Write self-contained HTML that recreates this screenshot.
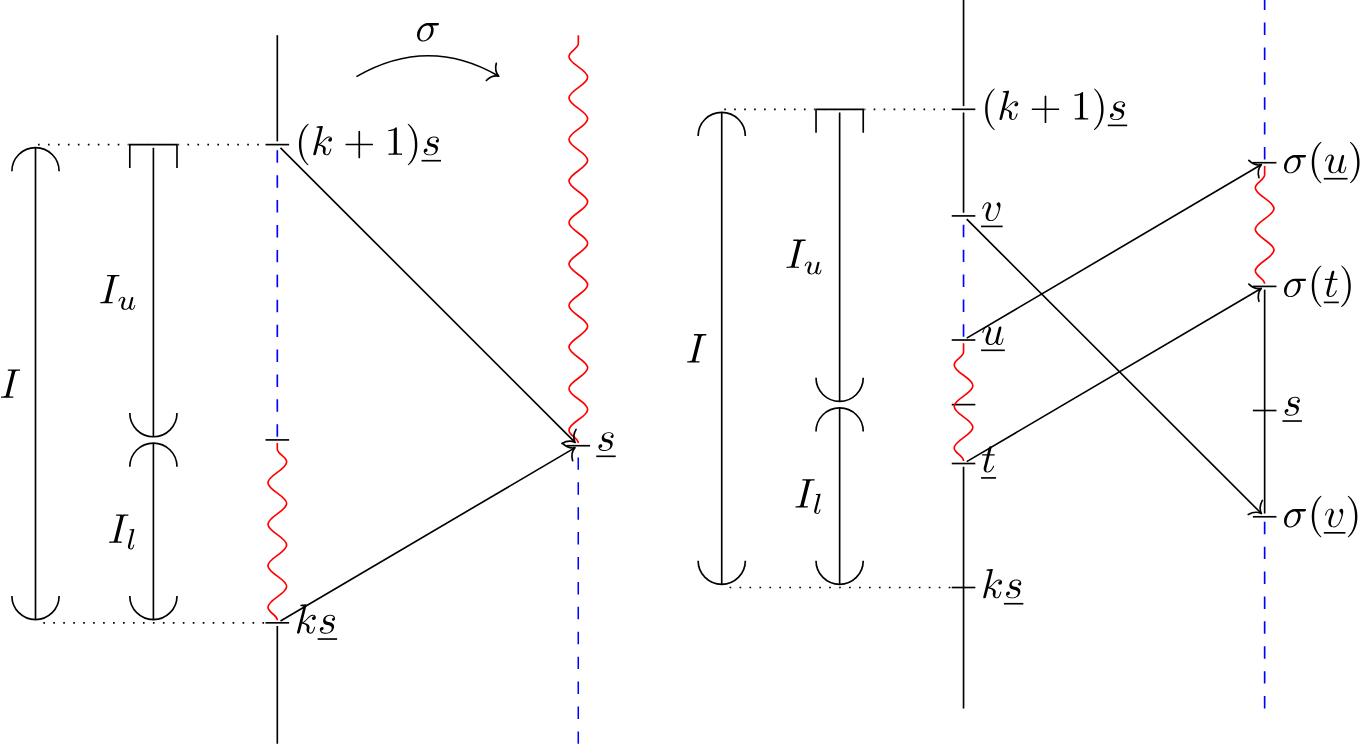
<!DOCTYPE html>
<html><head><meta charset="utf-8"><title>diagram</title>
<style>html,body{margin:0;padding:0;background:#fff;}body{width:1360px;height:744px;overflow:hidden;font-family:"Liberation Serif",serif;}svg{display:block;}</style>
</head><body>
<svg width="1360" height="744" viewBox="0 0 326.4 178.56">
<defs>
<g>
<g id="glyph-0-0">
<path d="M 3.296875 2.390625 C 3.296875 2.359375 3.296875 2.34375 3.125 2.171875 C 1.890625 0.921875 1.5625 -0.96875 1.5625 -2.5 C 1.5625 -4.234375 1.9375 -5.96875 3.171875 -7.203125 C 3.296875 -7.328125 3.296875 -7.34375 3.296875 -7.375 C 3.296875 -7.453125 3.265625 -7.484375 3.203125 -7.484375 C 3.09375 -7.484375 2.203125 -6.796875 1.609375 -5.53125 C 1.109375 -4.4375 0.984375 -3.328125 0.984375 -2.5 C 0.984375 -1.71875 1.09375 -0.515625 1.640625 0.625 C 2.25 1.84375 3.09375 2.5 3.203125 2.5 C 3.265625 2.5 3.296875 2.46875 3.296875 2.390625 Z M 3.296875 2.390625 "/>
</g>
<g id="glyph-0-1">
<path d="M 4.078125 -2.296875 L 6.859375 -2.296875 C 7 -2.296875 7.1875 -2.296875 7.1875 -2.5 C 7.1875 -2.6875 7 -2.6875 6.859375 -2.6875 L 4.078125 -2.6875 L 4.078125 -5.484375 C 4.078125 -5.625 4.078125 -5.8125 3.875 -5.8125 C 3.671875 -5.8125 3.671875 -5.625 3.671875 -5.484375 L 3.671875 -2.6875 L 0.890625 -2.6875 C 0.75 -2.6875 0.5625 -2.6875 0.5625 -2.5 C 0.5625 -2.296875 0.75 -2.296875 0.890625 -2.296875 L 3.671875 -2.296875 L 3.671875 0.5 C 3.671875 0.640625 3.671875 0.828125 3.875 0.828125 C 4.078125 0.828125 4.078125 0.640625 4.078125 0.5 Z M 4.078125 -2.296875 "/>
</g>
<g id="glyph-0-2">
<path d="M 2.9375 -6.375 C 2.9375 -6.625 2.9375 -6.640625 2.703125 -6.640625 C 2.078125 -6 1.203125 -6 0.890625 -6 L 0.890625 -5.6875 C 1.09375 -5.6875 1.671875 -5.6875 2.1875 -5.953125 L 2.1875 -0.78125 C 2.1875 -0.421875 2.15625 -0.3125 1.265625 -0.3125 L 0.953125 -0.3125 L 0.953125 0 C 1.296875 -0.03125 2.15625 -0.03125 2.5625 -0.03125 C 2.953125 -0.03125 3.828125 -0.03125 4.171875 0 L 4.171875 -0.3125 L 3.859375 -0.3125 C 2.953125 -0.3125 2.9375 -0.421875 2.9375 -0.78125 Z M 2.9375 -6.375 "/>
</g>
<g id="glyph-0-3">
<path d="M 2.875 -2.5 C 2.875 -3.265625 2.765625 -4.46875 2.21875 -5.609375 C 1.625 -6.828125 0.765625 -7.484375 0.671875 -7.484375 C 0.609375 -7.484375 0.5625 -7.4375 0.5625 -7.375 C 0.5625 -7.34375 0.5625 -7.328125 0.75 -7.140625 C 1.734375 -6.15625 2.296875 -4.578125 2.296875 -2.5 C 2.296875 -0.78125 1.9375 0.96875 0.703125 2.21875 C 0.5625 2.34375 0.5625 2.359375 0.5625 2.390625 C 0.5625 2.453125 0.609375 2.5 0.671875 2.5 C 0.765625 2.5 1.671875 1.8125 2.25 0.546875 C 2.765625 -0.546875 2.875 -1.65625 2.875 -2.5 Z M 2.875 -2.5 "/>
</g>
<g id="glyph-1-0">
<path d="M 2.859375 -6.8125 C 2.859375 -6.8125 2.859375 -6.921875 2.734375 -6.921875 C 2.5 -6.921875 1.78125 -6.84375 1.515625 -6.8125 C 1.4375 -6.8125 1.328125 -6.796875 1.328125 -6.625 C 1.328125 -6.5 1.421875 -6.5 1.5625 -6.5 C 2.046875 -6.5 2.0625 -6.4375 2.0625 -6.328125 L 2.03125 -6.125 L 0.59375 -0.390625 C 0.546875 -0.25 0.546875 -0.234375 0.546875 -0.171875 C 0.546875 0.0625 0.75 0.109375 0.84375 0.109375 C 0.96875 0.109375 1.109375 0.015625 1.171875 -0.09375 C 1.21875 -0.1875 1.671875 -2.03125 1.734375 -2.28125 C 2.078125 -2.25 2.890625 -2.09375 2.890625 -1.4375 C 2.890625 -1.359375 2.890625 -1.328125 2.859375 -1.21875 C 2.84375 -1.109375 2.828125 -0.984375 2.828125 -0.875 C 2.828125 -0.296875 3.21875 0.109375 3.734375 0.109375 C 4.03125 0.109375 4.3125 -0.046875 4.53125 -0.421875 C 4.78125 -0.859375 4.890625 -1.40625 4.890625 -1.421875 C 4.890625 -1.53125 4.796875 -1.53125 4.765625 -1.53125 C 4.671875 -1.53125 4.65625 -1.484375 4.625 -1.34375 C 4.421875 -0.625 4.203125 -0.109375 3.765625 -0.109375 C 3.5625 -0.109375 3.4375 -0.21875 3.4375 -0.578125 C 3.4375 -0.75 3.484375 -0.984375 3.515625 -1.140625 C 3.5625 -1.3125 3.5625 -1.34375 3.5625 -1.453125 C 3.5625 -2.09375 2.9375 -2.375 2.078125 -2.5 C 2.390625 -2.671875 2.71875 -2.984375 2.9375 -3.234375 C 3.421875 -3.765625 3.875 -4.1875 4.359375 -4.1875 C 4.421875 -4.1875 4.4375 -4.1875 4.453125 -4.171875 C 4.578125 -4.15625 4.578125 -4.15625 4.671875 -4.09375 C 4.6875 -4.09375 4.6875 -4.078125 4.703125 -4.0625 C 4.234375 -4.03125 4.140625 -3.640625 4.140625 -3.515625 C 4.140625 -3.359375 4.25 -3.171875 4.515625 -3.171875 C 4.78125 -3.171875 5.0625 -3.390625 5.0625 -3.78125 C 5.0625 -4.078125 4.828125 -4.40625 4.390625 -4.40625 C 4.109375 -4.40625 3.65625 -4.328125 2.9375 -3.53125 C 2.59375 -3.15625 2.203125 -2.75 1.828125 -2.609375 Z M 2.859375 -6.8125 "/>
</g>
<g id="glyph-1-1">
<path d="M 3.890625 -3.734375 C 3.625 -3.71875 3.421875 -3.5 3.421875 -3.28125 C 3.421875 -3.140625 3.515625 -2.984375 3.734375 -2.984375 C 3.953125 -2.984375 4.1875 -3.15625 4.1875 -3.546875 C 4.1875 -4 3.765625 -4.40625 3 -4.40625 C 1.6875 -4.40625 1.3125 -3.390625 1.3125 -2.953125 C 1.3125 -2.171875 2.046875 -2.03125 2.34375 -1.96875 C 2.859375 -1.859375 3.375 -1.75 3.375 -1.203125 C 3.375 -0.953125 3.15625 -0.109375 1.953125 -0.109375 C 1.8125 -0.109375 1.046875 -0.109375 0.8125 -0.640625 C 1.203125 -0.59375 1.453125 -0.890625 1.453125 -1.171875 C 1.453125 -1.390625 1.28125 -1.515625 1.078125 -1.515625 C 0.8125 -1.515625 0.515625 -1.3125 0.515625 -0.859375 C 0.515625 -0.296875 1.09375 0.109375 1.9375 0.109375 C 3.5625 0.109375 3.953125 -1.09375 3.953125 -1.546875 C 3.953125 -1.90625 3.765625 -2.15625 3.640625 -2.265625 C 3.375 -2.546875 3.078125 -2.609375 2.640625 -2.6875 C 2.28125 -2.765625 1.890625 -2.84375 1.890625 -3.296875 C 1.890625 -3.578125 2.125 -4.1875 3 -4.1875 C 3.25 -4.1875 3.75 -4.109375 3.890625 -3.734375 Z M 3.890625 -3.734375 "/>
</g>
<g id="glyph-1-2">
<path d="M 5.15625 -3.71875 C 5.296875 -3.71875 5.65625 -3.71875 5.65625 -4.0625 C 5.65625 -4.296875 5.4375 -4.296875 5.265625 -4.296875 L 2.984375 -4.296875 C 1.484375 -4.296875 0.375 -2.65625 0.375 -1.46875 C 0.375 -0.59375 0.96875 0.109375 1.875 0.109375 C 3.046875 0.109375 4.375 -1.09375 4.375 -2.625 C 4.375 -2.796875 4.375 -3.28125 4.0625 -3.71875 Z M 1.890625 -0.109375 C 1.390625 -0.109375 1 -0.46875 1 -1.1875 C 1 -1.484375 1.109375 -2.296875 1.46875 -2.890625 C 1.890625 -3.578125 2.484375 -3.71875 2.828125 -3.71875 C 3.65625 -3.71875 3.734375 -3.0625 3.734375 -2.75 C 3.734375 -2.28125 3.53125 -1.46875 3.203125 -0.953125 C 2.8125 -0.375 2.265625 -0.109375 1.890625 -0.109375 Z M 1.890625 -0.109375 "/>
</g>
<g id="glyph-1-3">
<path d="M 3.734375 -6.046875 C 3.8125 -6.40625 3.84375 -6.5 4.640625 -6.5 C 4.875 -6.5 4.953125 -6.5 4.953125 -6.6875 C 4.953125 -6.8125 4.84375 -6.8125 4.8125 -6.8125 C 4.515625 -6.8125 3.78125 -6.78125 3.484375 -6.78125 C 3.1875 -6.78125 2.46875 -6.8125 2.15625 -6.8125 C 2.09375 -6.8125 1.96875 -6.8125 1.96875 -6.609375 C 1.96875 -6.5 2.046875 -6.5 2.25 -6.5 C 2.65625 -6.5 2.9375 -6.5 2.9375 -6.3125 C 2.9375 -6.265625 2.9375 -6.234375 2.90625 -6.15625 L 1.5625 -0.78125 C 1.46875 -0.40625 1.453125 -0.3125 0.65625 -0.3125 C 0.421875 -0.3125 0.34375 -0.3125 0.34375 -0.109375 C 0.34375 0 0.453125 0 0.484375 0 C 0.78125 0 1.5 -0.03125 1.796875 -0.03125 C 2.09375 -0.03125 2.828125 0 3.125 0 C 3.203125 0 3.328125 0 3.328125 -0.1875 C 3.328125 -0.3125 3.25 -0.3125 3.03125 -0.3125 C 2.84375 -0.3125 2.796875 -0.3125 2.609375 -0.328125 C 2.390625 -0.34375 2.359375 -0.390625 2.359375 -0.5 C 2.359375 -0.578125 2.375 -0.65625 2.390625 -0.734375 Z M 3.734375 -6.046875 "/>
</g>
<g id="glyph-1-4">
<path d="M 4.671875 -3.703125 C 4.671875 -4.25 4.40625 -4.40625 4.234375 -4.40625 C 3.984375 -4.40625 3.734375 -4.140625 3.734375 -3.921875 C 3.734375 -3.796875 3.78125 -3.734375 3.890625 -3.625 C 4.109375 -3.421875 4.234375 -3.171875 4.234375 -2.8125 C 4.234375 -2.390625 3.625 -0.109375 2.46875 -0.109375 C 1.953125 -0.109375 1.71875 -0.453125 1.71875 -0.984375 C 1.71875 -1.53125 2 -2.265625 2.296875 -3.09375 C 2.375 -3.265625 2.421875 -3.40625 2.421875 -3.59375 C 2.421875 -4.03125 2.109375 -4.40625 1.609375 -4.40625 C 0.671875 -4.40625 0.296875 -2.953125 0.296875 -2.875 C 0.296875 -2.765625 0.390625 -2.765625 0.40625 -2.765625 C 0.515625 -2.765625 0.515625 -2.796875 0.5625 -2.953125 C 0.859375 -3.953125 1.28125 -4.1875 1.578125 -4.1875 C 1.65625 -4.1875 1.828125 -4.1875 1.828125 -3.875 C 1.828125 -3.625 1.71875 -3.34375 1.65625 -3.171875 C 1.21875 -2.015625 1.09375 -1.5625 1.09375 -1.125 C 1.09375 -0.046875 1.96875 0.109375 2.421875 0.109375 C 4.09375 0.109375 4.671875 -3.1875 4.671875 -3.703125 Z M 4.671875 -3.703125 "/>
</g>
<g id="glyph-1-5">
<path d="M 3.484375 -0.5625 C 3.59375 -0.15625 3.953125 0.109375 4.375 0.109375 C 4.71875 0.109375 4.953125 -0.125 5.109375 -0.4375 C 5.28125 -0.796875 5.40625 -1.40625 5.40625 -1.421875 C 5.40625 -1.53125 5.328125 -1.53125 5.296875 -1.53125 C 5.1875 -1.53125 5.1875 -1.484375 5.15625 -1.34375 C 5.015625 -0.78125 4.828125 -0.109375 4.40625 -0.109375 C 4.203125 -0.109375 4.09375 -0.234375 4.09375 -0.5625 C 4.09375 -0.78125 4.21875 -1.25 4.296875 -1.609375 L 4.578125 -2.6875 C 4.609375 -2.828125 4.703125 -3.203125 4.75 -3.359375 C 4.796875 -3.59375 4.890625 -3.96875 4.890625 -4.03125 C 4.890625 -4.203125 4.75 -4.296875 4.609375 -4.296875 C 4.5625 -4.296875 4.296875 -4.28125 4.21875 -3.953125 C 4.03125 -3.21875 3.59375 -1.46875 3.46875 -0.953125 C 3.453125 -0.90625 3.0625 -0.109375 2.328125 -0.109375 C 1.8125 -0.109375 1.71875 -0.5625 1.71875 -0.921875 C 1.71875 -1.484375 2 -2.265625 2.25 -2.953125 C 2.375 -3.265625 2.421875 -3.40625 2.421875 -3.59375 C 2.421875 -4.03125 2.109375 -4.40625 1.609375 -4.40625 C 0.65625 -4.40625 0.296875 -2.953125 0.296875 -2.875 C 0.296875 -2.765625 0.390625 -2.765625 0.40625 -2.765625 C 0.515625 -2.765625 0.515625 -2.796875 0.5625 -2.953125 C 0.8125 -3.8125 1.203125 -4.1875 1.578125 -4.1875 C 1.671875 -4.1875 1.828125 -4.171875 1.828125 -3.859375 C 1.828125 -3.625 1.71875 -3.328125 1.65625 -3.1875 C 1.28125 -2.1875 1.078125 -1.578125 1.078125 -1.09375 C 1.078125 -0.140625 1.765625 0.109375 2.296875 0.109375 C 2.953125 0.109375 3.3125 -0.34375 3.484375 -0.5625 Z M 3.484375 -0.5625 "/>
</g>
<g id="glyph-1-6">
<path d="M 2.046875 -3.984375 L 2.984375 -3.984375 C 3.1875 -3.984375 3.296875 -3.984375 3.296875 -4.1875 C 3.296875 -4.296875 3.1875 -4.296875 3.015625 -4.296875 L 2.140625 -4.296875 C 2.5 -5.71875 2.546875 -5.90625 2.546875 -5.96875 C 2.546875 -6.140625 2.421875 -6.234375 2.25 -6.234375 C 2.21875 -6.234375 1.9375 -6.234375 1.859375 -5.875 L 1.46875 -4.296875 L 0.53125 -4.296875 C 0.328125 -4.296875 0.234375 -4.296875 0.234375 -4.109375 C 0.234375 -3.984375 0.3125 -3.984375 0.515625 -3.984375 L 1.390625 -3.984375 C 0.671875 -1.15625 0.625 -0.984375 0.625 -0.8125 C 0.625 -0.265625 1 0.109375 1.546875 0.109375 C 2.5625 0.109375 3.125 -1.34375 3.125 -1.421875 C 3.125 -1.53125 3.046875 -1.53125 3.015625 -1.53125 C 2.921875 -1.53125 2.90625 -1.5 2.859375 -1.390625 C 2.4375 -0.34375 1.90625 -0.109375 1.5625 -0.109375 C 1.359375 -0.109375 1.25 -0.234375 1.25 -0.5625 C 1.25 -0.8125 1.28125 -0.875 1.3125 -1.046875 Z M 2.046875 -3.984375 "/>
</g>
<g id="glyph-2-0">
<path d="M 2.953125 -1.125 C 2.90625 -0.984375 2.84375 -0.71875 2.84375 -0.71875 C 2.703125 -0.5 2.421875 -0.125 2 -0.125 C 1.515625 -0.125 1.515625 -0.578125 1.515625 -0.703125 C 1.515625 -1.109375 1.703125 -1.609375 1.90625 -2.125 C 1.953125 -2.265625 2 -2.359375 2 -2.46875 C 2 -2.84375 1.6875 -3.078125 1.34375 -3.078125 C 0.640625 -3.078125 0.328125 -2.125 0.328125 -2 C 0.328125 -1.921875 0.421875 -1.921875 0.453125 -1.921875 C 0.546875 -1.921875 0.546875 -1.953125 0.578125 -2.03125 C 0.734375 -2.59375 1.046875 -2.875 1.3125 -2.875 C 1.4375 -2.875 1.484375 -2.796875 1.484375 -2.640625 C 1.484375 -2.46875 1.4375 -2.328125 1.359375 -2.171875 C 0.984375 -1.203125 0.984375 -1 0.984375 -0.8125 C 0.984375 -0.703125 0.984375 -0.375 1.25 -0.15625 C 1.453125 0.015625 1.71875 0.0625 1.96875 0.0625 C 2.40625 0.0625 2.640625 -0.171875 2.875 -0.390625 C 3.03125 0.0625 3.484375 0.0625 3.578125 0.0625 C 3.8125 0.0625 4 -0.0625 4.125 -0.296875 C 4.28125 -0.578125 4.375 -0.96875 4.375 -1 C 4.375 -1.09375 4.28125 -1.09375 4.265625 -1.09375 C 4.15625 -1.09375 4.15625 -1.0625 4.109375 -0.875 C 4.015625 -0.546875 3.890625 -0.125 3.59375 -0.125 C 3.421875 -0.125 3.359375 -0.28125 3.359375 -0.46875 C 3.359375 -0.578125 3.421875 -0.84375 3.46875 -1.015625 C 3.515625 -1.203125 3.59375 -1.484375 3.625 -1.640625 L 3.78125 -2.265625 C 3.828125 -2.4375 3.90625 -2.75 3.90625 -2.78125 C 3.90625 -2.921875 3.796875 -3 3.671875 -3 C 3.421875 -3 3.359375 -2.796875 3.3125 -2.578125 Z M 2.953125 -1.125 "/>
</g>
<g id="glyph-2-1">
<path d="M 1.96875 -4.625 C 1.96875 -4.640625 2 -4.734375 2 -4.734375 C 2 -4.78125 1.96875 -4.84375 1.875 -4.84375 C 1.734375 -4.84375 1.15625 -4.78125 0.984375 -4.765625 C 0.9375 -4.765625 0.84375 -4.75 0.84375 -4.609375 C 0.84375 -4.515625 0.9375 -4.515625 1.015625 -4.515625 C 1.359375 -4.515625 1.359375 -4.453125 1.359375 -4.40625 C 1.359375 -4.359375 1.34375 -4.3125 1.328125 -4.25 L 0.453125 -0.8125 C 0.4375 -0.734375 0.4375 -0.65625 0.4375 -0.59375 C 0.4375 -0.140625 0.828125 0.0625 1.15625 0.0625 C 1.328125 0.0625 1.546875 0.015625 1.71875 -0.296875 C 1.875 -0.5625 1.96875 -0.96875 1.96875 -1 C 1.96875 -1.09375 1.875 -1.09375 1.859375 -1.09375 C 1.75 -1.09375 1.734375 -1.046875 1.71875 -0.921875 C 1.625 -0.578125 1.484375 -0.125 1.1875 -0.125 C 1 -0.125 0.953125 -0.296875 0.953125 -0.46875 C 0.953125 -0.546875 0.96875 -0.671875 1 -0.75 Z M 1.96875 -4.625 "/>
</g>
</g>
<clipPath id="clip-0">
<path clip-rule="nonzero" d="M 66 150 L 67 150 L 67 178.5625 L 66 178.5625 Z M 66 150 "/>
</clipPath>
<clipPath id="clip-1">
<path clip-rule="nonzero" d="M 138 107 L 139 107 L 139 178.5625 L 138 178.5625 Z M 138 107 "/>
</clipPath>
<clipPath id="clip-2">
<path clip-rule="nonzero" d="M 323 34 L 326.40625 34 L 326.40625 44 L 323 44 Z M 323 34 "/>
</clipPath>
</defs>
<path fill="none" stroke-width="0.3985" stroke-linecap="butt" stroke-linejoin="miter" stroke="rgb(0%, 0%, 0%)" stroke-opacity="1" stroke-dasharray="0.3985 1.99255" stroke-miterlimit="10" d="M 9.121094 -34.707031 L 63.578125 -34.707031 " transform="matrix(1, 0, 0, -1, 0, 0)"/>
<path fill="none" stroke-width="0.3985" stroke-linecap="butt" stroke-linejoin="miter" stroke="rgb(0%, 0%, 0%)" stroke-opacity="1" stroke-dasharray="0.3985 1.99255" stroke-miterlimit="10" d="M 63.394531 -149.476562 L 9.289062 -149.476562 " transform="matrix(1, 0, 0, -1, 0, 0)"/>
<path fill-rule="nonzero" fill="rgb(100%, 100%, 100%)" fill-opacity="1" d="M 30.863281 34.394531 L 30.863281 35.015625 L 42.769531 35.015625 L 42.769531 34.394531 Z M 30.863281 34.394531 "/>
<path fill="none" stroke-width="0.3985" stroke-linecap="butt" stroke-linejoin="miter" stroke="rgb(0%, 0%, 0%)" stroke-opacity="1" stroke-miterlimit="10" d="M 8.519531 -35.472656 L 8.519531 -148.710938 " transform="matrix(1, 0, 0, -1, 0, 0)"/>
<path fill="none" stroke-width="0.3985" stroke-linecap="butt" stroke-linejoin="miter" stroke="rgb(0%, 0%, 0%)" stroke-opacity="1" stroke-miterlimit="10" d="M 14.183594 -41.089844 C 14.183594 -37.960938 11.648438 -35.425781 8.519531 -35.425781 C 5.390625 -35.425781 2.855469 -37.960938 2.855469 -41.089844 " transform="matrix(1, 0, 0, -1, 0, 0)"/>
<path fill="none" stroke-width="0.3985" stroke-linecap="butt" stroke-linejoin="miter" stroke="rgb(0%, 0%, 0%)" stroke-opacity="1" stroke-miterlimit="10" d="M 14.183594 -143.046875 C 14.183594 -146.171875 11.648438 -148.710938 8.519531 -148.710938 C 5.390625 -148.710938 2.855469 -146.171875 2.855469 -143.046875 " transform="matrix(1, 0, 0, -1, 0, 0)"/>
<path fill="none" stroke-width="0.3985" stroke-linecap="butt" stroke-linejoin="miter" stroke="rgb(0%, 0%, 0%)" stroke-opacity="1" stroke-miterlimit="10" d="M 36.816406 -35.472656 L 36.816406 -104.8125 " transform="matrix(1, 0, 0, -1, 0, 0)"/>
<path fill="none" stroke-width="0.3985" stroke-linecap="butt" stroke-linejoin="miter" stroke="rgb(0%, 0%, 0%)" stroke-opacity="1" stroke-miterlimit="10" d="M 31.152344 -40.308594 L 31.152344 -34.707031 L 42.480469 -34.707031 L 42.480469 -40.308594 " transform="matrix(1, 0, 0, -1, 0, 0)"/>
<path fill="none" stroke-width="0.3985" stroke-linecap="butt" stroke-linejoin="miter" stroke="rgb(0%, 0%, 0%)" stroke-opacity="1" stroke-miterlimit="10" d="M 42.480469 -99.148438 C 42.480469 -102.277344 39.945312 -104.8125 36.816406 -104.8125 C 33.6875 -104.8125 31.152344 -102.277344 31.152344 -99.148438 " transform="matrix(1, 0, 0, -1, 0, 0)"/>
<path fill="none" stroke-width="0.3985" stroke-linecap="butt" stroke-linejoin="miter" stroke="rgb(0%, 0%, 0%)" stroke-opacity="1" stroke-miterlimit="10" d="M 36.816406 -106.347656 L 36.816406 -148.710938 " transform="matrix(1, 0, 0, -1, 0, 0)"/>
<path fill="none" stroke-width="0.3985" stroke-linecap="butt" stroke-linejoin="miter" stroke="rgb(0%, 0%, 0%)" stroke-opacity="1" stroke-miterlimit="10" d="M 42.480469 -112.011719 C 42.480469 -108.882812 39.945312 -106.347656 36.816406 -106.347656 C 33.6875 -106.347656 31.152344 -108.882812 31.152344 -112.011719 " transform="matrix(1, 0, 0, -1, 0, 0)"/>
<path fill="none" stroke-width="0.3985" stroke-linecap="butt" stroke-linejoin="miter" stroke="rgb(0%, 0%, 0%)" stroke-opacity="1" stroke-miterlimit="10" d="M 42.480469 -143.046875 C 42.480469 -146.171875 39.945312 -148.710938 36.816406 -148.710938 C 33.6875 -148.710938 31.152344 -146.171875 31.152344 -143.046875 " transform="matrix(1, 0, 0, -1, 0, 0)"/>
<path fill="none" stroke-width="0.3985" stroke-linecap="butt" stroke-linejoin="miter" stroke="rgb(0%, 0%, 0%)" stroke-opacity="1" stroke-miterlimit="10" d="M 63.722656 -34.707031 L 69.386719 -34.707031 " transform="matrix(1, 0, 0, -1, 0, 0)"/>
<path fill="none" stroke-width="0.3985" stroke-linecap="butt" stroke-linejoin="miter" stroke="rgb(0%, 0%, 0%)" stroke-opacity="1" stroke-miterlimit="10" d="M 63.722656 -105.578125 L 69.386719 -105.578125 " transform="matrix(1, 0, 0, -1, 0, 0)"/>
<path fill="none" stroke-width="0.3985" stroke-linecap="butt" stroke-linejoin="miter" stroke="rgb(0%, 0%, 0%)" stroke-opacity="1" stroke-miterlimit="10" d="M 63.722656 -149.476562 L 69.386719 -149.476562 " transform="matrix(1, 0, 0, -1, 0, 0)"/>
<path fill="none" stroke-width="0.3985" stroke-linecap="butt" stroke-linejoin="miter" stroke="rgb(0%, 0%, 0%)" stroke-opacity="1" stroke-miterlimit="10" d="M 135.964844 -106.972656 L 141.628906 -106.972656 " transform="matrix(1, 0, 0, -1, 0, 0)"/>
<path fill="none" stroke-width="0.3985" stroke-linecap="butt" stroke-linejoin="miter" stroke="rgb(0%, 0%, 0%)" stroke-opacity="1" stroke-miterlimit="10" d="M 66.554688 -8.449219 L 66.554688 -33.9375 " transform="matrix(1, 0, 0, -1, 0, 0)"/>
<path fill="none" stroke-width="0.3985" stroke-linecap="butt" stroke-linejoin="miter" stroke="rgb(0%, 0%, 100%)" stroke-opacity="1" stroke-dasharray="2.98883 2.98883" stroke-miterlimit="10" d="M 66.554688 -104.8125 L 66.554688 -35.472656 " transform="matrix(1, 0, 0, -1, 0, 0)"/>
<path fill="none" stroke-width="0.3985" stroke-linecap="butt" stroke-linejoin="miter" stroke="rgb(100%, 0%, 0%)" stroke-opacity="1" stroke-miterlimit="10" d="M 66.554688 -148.851562 C 66.554688 -147.609375 64.3125 -146.984375 64.3125 -145.738281 C 64.3125 -144.839844 65.40625 -144.0625 66.554688 -143.25 C 67.703125 -142.4375 68.796875 -141.660156 68.796875 -140.757812 C 68.796875 -139.855469 67.703125 -139.078125 66.554688 -138.269531 C 65.40625 -137.457031 64.3125 -136.679688 64.3125 -135.777344 C 64.3125 -134.875 65.40625 -134.097656 66.554688 -133.285156 C 67.703125 -132.476562 68.796875 -131.699219 68.796875 -130.796875 C 68.796875 -129.894531 67.703125 -129.117188 66.554688 -128.304688 C 65.40625 -127.492188 64.3125 -126.714844 64.3125 -125.816406 C 64.3125 -124.914062 65.40625 -124.136719 66.554688 -123.324219 C 67.703125 -122.511719 68.796875 -121.734375 68.796875 -120.832031 C 68.796875 -119.929688 67.703125 -119.15625 66.554688 -118.34375 C 65.40625 -117.53125 64.3125 -116.753906 64.3125 -115.851562 C 64.3125 -114.949219 65.40625 -114.171875 66.554688 -113.359375 C 67.703125 -112.550781 68.796875 -111.773438 68.796875 -110.871094 C 68.796875 -109.625 66.554688 -109.003906 66.554688 -107.757812 L 66.554688 -106.347656 " transform="matrix(1, 0, 0, -1, 0, 0)"/>
<g clip-path="url(#clip-0)">
<path fill="none" stroke-width="0.3985" stroke-linecap="butt" stroke-linejoin="miter" stroke="rgb(0%, 0%, 0%)" stroke-opacity="1" stroke-miterlimit="10" d="M 66.554688 -150.246094 L 66.554688 -178.519531 " transform="matrix(1, 0, 0, -1, 0, 0)"/>
</g>
<path fill="none" stroke-width="0.3985" stroke-linecap="butt" stroke-linejoin="miter" stroke="rgb(100%, 0%, 0%)" stroke-opacity="1" stroke-miterlimit="10" d="M 138.796875 -106.347656 C 138.796875 -105.101562 136.554688 -104.480469 136.554688 -103.234375 C 136.554688 -102.332031 137.648438 -101.554688 138.796875 -100.742188 C 139.945312 -99.933594 141.039062 -99.15625 141.039062 -98.253906 C 141.039062 -97.351562 139.945312 -96.574219 138.796875 -95.761719 C 137.648438 -94.949219 136.554688 -94.171875 136.554688 -93.273438 C 136.554688 -92.371094 137.648438 -91.59375 138.796875 -90.78125 C 139.945312 -89.96875 141.039062 -89.191406 141.039062 -88.289062 C 141.039062 -87.390625 139.945312 -86.613281 138.796875 -85.800781 C 137.648438 -84.988281 136.554688 -84.210938 136.554688 -83.308594 C 136.554688 -82.40625 137.648438 -81.628906 138.796875 -80.816406 C 139.945312 -80.007812 141.039062 -79.230469 141.039062 -78.328125 C 141.039062 -77.425781 139.945312 -76.648438 138.796875 -75.835938 C 137.648438 -75.023438 136.554688 -74.246094 136.554688 -73.347656 C 136.554688 -72.445312 137.648438 -71.667969 138.796875 -70.855469 C 139.945312 -70.042969 141.039062 -69.265625 141.039062 -68.363281 C 141.039062 -67.464844 139.945312 -66.6875 138.796875 -65.875 C 137.648438 -65.0625 136.554688 -64.285156 136.554688 -63.382812 C 136.554688 -62.480469 137.648438 -61.703125 138.796875 -60.894531 C 139.945312 -60.082031 141.039062 -59.304688 141.039062 -58.402344 C 141.039062 -57.5 139.945312 -56.722656 138.796875 -55.910156 C 137.648438 -55.097656 136.554688 -54.324219 136.554688 -53.421875 C 136.554688 -52.519531 137.648438 -51.742188 138.796875 -50.929688 C 139.945312 -50.117188 141.039062 -49.339844 141.039062 -48.4375 C 141.039062 -47.539062 139.945312 -46.761719 138.796875 -45.949219 C 137.648438 -45.136719 136.554688 -44.359375 136.554688 -43.457031 C 136.554688 -42.554688 137.648438 -41.777344 138.796875 -40.96875 C 139.945312 -40.15625 141.039062 -39.378906 141.039062 -38.476562 C 141.039062 -37.574219 139.945312 -36.796875 138.796875 -35.984375 C 137.648438 -35.175781 136.554688 -34.398438 136.554688 -33.496094 C 136.554688 -32.59375 137.648438 -31.816406 138.796875 -31.003906 C 139.945312 -30.191406 141.039062 -29.414062 141.039062 -28.515625 C 141.039062 -27.613281 139.945312 -26.835938 138.796875 -26.023438 C 137.648438 -25.210938 136.554688 -24.433594 136.554688 -23.53125 C 136.554688 -22.628906 137.648438 -21.855469 138.796875 -21.042969 C 139.945312 -20.230469 141.039062 -19.453125 141.039062 -18.550781 C 141.039062 -17.648438 139.945312 -16.871094 138.796875 -16.058594 C 137.648438 -15.25 136.554688 -14.472656 136.554688 -13.570312 C 136.554688 -12.324219 138.796875 -11.703125 138.796875 -10.457031 L 138.796875 -8.449219 " transform="matrix(1, 0, 0, -1, 0, 0)"/>
<g clip-path="url(#clip-1)">
<path fill="none" stroke-width="0.3985" stroke-linecap="butt" stroke-linejoin="miter" stroke="rgb(0%, 0%, 100%)" stroke-opacity="1" stroke-dasharray="2.98883 2.98883" stroke-miterlimit="10" d="M 138.796875 -178.519531 L 138.796875 -107.738281 " transform="matrix(1, 0, 0, -1, 0, 0)"/>
</g>
<path fill="none" stroke-width="0.3985" stroke-linecap="butt" stroke-linejoin="miter" stroke="rgb(0%, 0%, 0%)" stroke-opacity="1" stroke-miterlimit="10" d="M 67.320312 -35.472656 L 137.890625 -106.066406 " transform="matrix(1, 0, 0, -1, 0, 0)"/>
<path fill="none" stroke-width="0.3985" stroke-linecap="round" stroke-linejoin="round" stroke="rgb(0%, 0%, 0%)" stroke-opacity="1" stroke-miterlimit="10" d="M -2.072869 2.390816 C -1.694204 0.957297 -0.848855 0.277939 -0.000812156 -0.000899069 C -0.848761 -0.280025 -1.69388 -0.954146 -2.072057 -2.393317 " transform="matrix(0.70697, 0.70721, 0.70721, -0.70697, 138.03246, 106.20697)"/>
<path fill="none" stroke-width="0.3985" stroke-linecap="butt" stroke-linejoin="miter" stroke="rgb(0%, 0%, 0%)" stroke-opacity="1" stroke-miterlimit="10" d="M 67.324219 -149.027344 L 137.828125 -107.542969 " transform="matrix(1, 0, 0, -1, 0, 0)"/>
<path fill="none" stroke-width="0.3985" stroke-linecap="round" stroke-linejoin="round" stroke="rgb(0%, 0%, 0%)" stroke-opacity="1" stroke-miterlimit="10" d="M -2.071191 2.391076 C -1.693006 0.953858 -0.847708 0.279757 -0.00178195 -0.000386031 C -0.850926 -0.280381 -1.693965 -0.958296 -2.070222 -2.391289 " transform="matrix(0.86183, -0.50706, -0.50706, -0.86183, 138.00134, 107.44017)"/>
<path fill="none" stroke-width="0.3985" stroke-linecap="butt" stroke-linejoin="miter" stroke="rgb(0%, 0%, 0%)" stroke-opacity="1" stroke-miterlimit="10" d="M 85.539062 -18.382812 C 97.136719 -11.6875 108.285156 -11.6875 119.539062 -18.183594 " transform="matrix(1, 0, 0, -1, 0, 0)"/>
<path fill="none" stroke-width="0.3985" stroke-linecap="round" stroke-linejoin="round" stroke="rgb(0%, 0%, 0%)" stroke-opacity="1" stroke-miterlimit="10" d="M -2.071072 2.390097 C -1.694525 0.956602 -0.852314 0.279099 -0.000727146 -0.000565592 C -0.850319 -0.279067 -1.695232 -0.956313 -2.071148 -2.391214 " transform="matrix(0.86601, 0.49998, 0.49998, -0.86601, 119.71185, 18.28503)"/>
<g fill="rgb(0%, 0%, 0%)" fill-opacity="1">
<use href="#glyph-0-0" x="70.761" y="37.177"/>
</g>
<g fill="rgb(0%, 0%, 0%)" fill-opacity="1">
<use href="#glyph-1-0" x="74.635" y="37.177"/>
</g>
<g fill="rgb(0%, 0%, 0%)" fill-opacity="1">
<use href="#glyph-0-1" x="82.349" y="37.177"/>
</g>
<g fill="rgb(0%, 0%, 0%)" fill-opacity="1">
<use href="#glyph-0-2" x="92.309607" y="37.177"/>
<use href="#glyph-0-3" x="97.290907" y="37.177"/>
</g>
<g fill="rgb(0%, 0%, 0%)" fill-opacity="1">
<use href="#glyph-1-1" x="101.168" y="37.177"/>
</g>
<path fill="none" stroke-width="0.398" stroke-linecap="butt" stroke-linejoin="miter" stroke="rgb(0%, 0%, 0%)" stroke-opacity="1" stroke-miterlimit="10" d="M -0.00003125 0.0006875 L 4.671844 0.0006875 " transform="matrix(1, 0, 0, -1, 101.168, 38.571)"/>
<g fill="rgb(0%, 0%, 0%)" fill-opacity="1">
<use href="#glyph-1-0" x="70.737" y="151.971"/>
</g>
<g fill="rgb(0%, 0%, 0%)" fill-opacity="1">
<use href="#glyph-1-1" x="76.23237" y="151.971"/>
</g>
<path fill="none" stroke-width="0.398" stroke-linecap="butt" stroke-linejoin="miter" stroke="rgb(0%, 0%, 0%)" stroke-opacity="1" stroke-miterlimit="10" d="M 0.00128125 -0.0011875 L 4.66925 -0.0011875 " transform="matrix(1, 0, 0, -1, 76.237, 153.366)"/>
<g fill="rgb(0%, 0%, 0%)" fill-opacity="1">
<use href="#glyph-1-1" x="143.099" y="108.122"/>
</g>
<path fill="none" stroke-width="0.398" stroke-linecap="butt" stroke-linejoin="miter" stroke="rgb(0%, 0%, 0%)" stroke-opacity="1" stroke-miterlimit="10" d="M -0.00134375 0.001375 L 4.670531 0.001375 " transform="matrix(1, 0, 0, -1, 143.099, 109.517)"/>
<g fill="rgb(0%, 0%, 0%)" fill-opacity="1">
<use href="#glyph-1-2" x="99.706" y="9.84"/>
</g>
<g fill="rgb(0%, 0%, 0%)" fill-opacity="1">
<use href="#glyph-1-3" x="-0.113" y="95.474"/>
</g>
<g fill="rgb(0%, 0%, 0%)" fill-opacity="1">
<use href="#glyph-1-3" x="23.72" y="72.793"/>
</g>
<g fill="rgb(0%, 0%, 0%)" fill-opacity="1">
<use href="#glyph-2-0" x="28.099" y="74.288"/>
</g>
<g fill="rgb(0%, 0%, 0%)" fill-opacity="1">
<use href="#glyph-1-3" x="25.88" y="130.299"/>
</g>
<g fill="rgb(0%, 0%, 0%)" fill-opacity="1">
<use href="#glyph-2-1" x="30.259" y="131.793"/>
</g>
<path fill="none" stroke-width="0.3985" stroke-linecap="butt" stroke-linejoin="miter" stroke="rgb(0%, 0%, 0%)" stroke-opacity="1" stroke-dasharray="0.3985 1.99255" stroke-miterlimit="10" d="M 173.8125 -26.234375 L 228.273438 -26.234375 " transform="matrix(1, 0, 0, -1, 0, 0)"/>
<path fill="none" stroke-width="0.3985" stroke-linecap="butt" stroke-linejoin="miter" stroke="rgb(0%, 0%, 0%)" stroke-opacity="1" stroke-dasharray="0.3985 1.99255" stroke-miterlimit="10" d="M 228.089844 -141.003906 L 173.980469 -141.003906 " transform="matrix(1, 0, 0, -1, 0, 0)"/>
<path fill-rule="nonzero" fill="rgb(100%, 100%, 100%)" fill-opacity="1" d="M 195.558594 25.921875 L 195.558594 26.546875 L 207.464844 26.546875 L 207.464844 25.921875 Z M 195.558594 25.921875 "/>
<path fill="none" stroke-width="0.3985" stroke-linecap="butt" stroke-linejoin="miter" stroke="rgb(0%, 0%, 0%)" stroke-opacity="1" stroke-miterlimit="10" d="M 173.214844 -27 L 173.214844 -140.238281 " transform="matrix(1, 0, 0, -1, 0, 0)"/>
<path fill="none" stroke-width="0.3985" stroke-linecap="butt" stroke-linejoin="miter" stroke="rgb(0%, 0%, 0%)" stroke-opacity="1" stroke-miterlimit="10" d="M 178.878906 -32.617188 C 178.878906 -29.488281 176.34375 -26.953125 173.214844 -26.953125 C 170.085938 -26.953125 167.550781 -29.488281 167.550781 -32.617188 " transform="matrix(1, 0, 0, -1, 0, 0)"/>
<path fill="none" stroke-width="0.3985" stroke-linecap="butt" stroke-linejoin="miter" stroke="rgb(0%, 0%, 0%)" stroke-opacity="1" stroke-miterlimit="10" d="M 178.878906 -134.574219 C 178.878906 -137.703125 176.34375 -140.238281 173.214844 -140.238281 C 170.085938 -140.238281 167.550781 -137.703125 167.550781 -134.574219 " transform="matrix(1, 0, 0, -1, 0, 0)"/>
<path fill="none" stroke-width="0.3985" stroke-linecap="butt" stroke-linejoin="miter" stroke="rgb(0%, 0%, 0%)" stroke-opacity="1" stroke-miterlimit="10" d="M 201.511719 -27 L 201.511719 -96.339844 " transform="matrix(1, 0, 0, -1, 0, 0)"/>
<path fill="none" stroke-width="0.3985" stroke-linecap="butt" stroke-linejoin="miter" stroke="rgb(0%, 0%, 0%)" stroke-opacity="1" stroke-miterlimit="10" d="M 195.847656 -31.835938 L 195.847656 -26.234375 L 207.175781 -26.234375 L 207.175781 -31.835938 " transform="matrix(1, 0, 0, -1, 0, 0)"/>
<path fill="none" stroke-width="0.3985" stroke-linecap="butt" stroke-linejoin="miter" stroke="rgb(0%, 0%, 0%)" stroke-opacity="1" stroke-miterlimit="10" d="M 207.175781 -90.675781 C 207.175781 -93.804688 204.640625 -96.339844 201.511719 -96.339844 C 198.382812 -96.339844 195.847656 -93.804688 195.847656 -90.675781 " transform="matrix(1, 0, 0, -1, 0, 0)"/>
<path fill="none" stroke-width="0.3985" stroke-linecap="butt" stroke-linejoin="miter" stroke="rgb(0%, 0%, 0%)" stroke-opacity="1" stroke-miterlimit="10" d="M 201.511719 -97.875 L 201.511719 -140.238281 " transform="matrix(1, 0, 0, -1, 0, 0)"/>
<path fill="none" stroke-width="0.3985" stroke-linecap="butt" stroke-linejoin="miter" stroke="rgb(0%, 0%, 0%)" stroke-opacity="1" stroke-miterlimit="10" d="M 207.175781 -103.539062 C 207.175781 -100.410156 204.640625 -97.875 201.511719 -97.875 C 198.382812 -97.875 195.847656 -100.410156 195.847656 -103.539062 " transform="matrix(1, 0, 0, -1, 0, 0)"/>
<path fill="none" stroke-width="0.3985" stroke-linecap="butt" stroke-linejoin="miter" stroke="rgb(0%, 0%, 0%)" stroke-opacity="1" stroke-miterlimit="10" d="M 207.175781 -134.574219 C 207.175781 -137.703125 204.640625 -140.238281 201.511719 -140.238281 C 198.382812 -140.238281 195.847656 -137.703125 195.847656 -134.574219 " transform="matrix(1, 0, 0, -1, 0, 0)"/>
<path fill="none" stroke-width="0.3985" stroke-linecap="butt" stroke-linejoin="miter" stroke="rgb(0%, 0%, 0%)" stroke-opacity="1" stroke-miterlimit="10" d="M 228.417969 -26.234375 L 234.082031 -26.234375 " transform="matrix(1, 0, 0, -1, 0, 0)"/>
<path fill="none" stroke-width="0.3985" stroke-linecap="butt" stroke-linejoin="miter" stroke="rgb(0%, 0%, 0%)" stroke-opacity="1" stroke-miterlimit="10" d="M 228.417969 -51.816406 L 234.082031 -51.816406 " transform="matrix(1, 0, 0, -1, 0, 0)"/>
<path fill="none" stroke-width="0.3985" stroke-linecap="butt" stroke-linejoin="miter" stroke="rgb(0%, 0%, 0%)" stroke-opacity="1" stroke-miterlimit="10" d="M 228.417969 -81.601562 L 234.082031 -81.601562 " transform="matrix(1, 0, 0, -1, 0, 0)"/>
<path fill="none" stroke-width="0.3985" stroke-linecap="butt" stroke-linejoin="miter" stroke="rgb(0%, 0%, 0%)" stroke-opacity="1" stroke-miterlimit="10" d="M 228.417969 -97.109375 L 234.082031 -97.109375 " transform="matrix(1, 0, 0, -1, 0, 0)"/>
<path fill="none" stroke-width="0.3985" stroke-linecap="butt" stroke-linejoin="miter" stroke="rgb(0%, 0%, 0%)" stroke-opacity="1" stroke-miterlimit="10" d="M 228.417969 -111.242188 L 234.082031 -111.242188 " transform="matrix(1, 0, 0, -1, 0, 0)"/>
<path fill="none" stroke-width="0.3985" stroke-linecap="butt" stroke-linejoin="miter" stroke="rgb(0%, 0%, 0%)" stroke-opacity="1" stroke-miterlimit="10" d="M 228.417969 -141.003906 L 234.082031 -141.003906 " transform="matrix(1, 0, 0, -1, 0, 0)"/>
<path fill="none" stroke-width="0.3985" stroke-linecap="butt" stroke-linejoin="miter" stroke="rgb(0%, 0%, 0%)" stroke-opacity="1" stroke-miterlimit="10" d="M 300.683594 -39.050781 L 306.347656 -39.050781 " transform="matrix(1, 0, 0, -1, 0, 0)"/>
<path fill="none" stroke-width="0.3985" stroke-linecap="butt" stroke-linejoin="miter" stroke="rgb(0%, 0%, 0%)" stroke-opacity="1" stroke-miterlimit="10" d="M 300.683594 -68.738281 L 306.347656 -68.738281 " transform="matrix(1, 0, 0, -1, 0, 0)"/>
<path fill="none" stroke-width="0.3985" stroke-linecap="butt" stroke-linejoin="miter" stroke="rgb(0%, 0%, 0%)" stroke-opacity="1" stroke-miterlimit="10" d="M 300.683594 -98.523438 L 306.347656 -98.523438 " transform="matrix(1, 0, 0, -1, 0, 0)"/>
<path fill="none" stroke-width="0.3985" stroke-linecap="butt" stroke-linejoin="miter" stroke="rgb(0%, 0%, 0%)" stroke-opacity="1" stroke-miterlimit="10" d="M 300.683594 -124.023438 L 306.347656 -124.023438 " transform="matrix(1, 0, 0, -1, 0, 0)"/>
<path fill="none" stroke-width="0.3985" stroke-linecap="butt" stroke-linejoin="miter" stroke="rgb(0%, 0%, 0%)" stroke-opacity="1" stroke-miterlimit="10" d="M 231.25 0.480469 L 231.25 -25.464844 " transform="matrix(1, 0, 0, -1, 0, 0)"/>
<path fill="none" stroke-width="0.3985" stroke-linecap="butt" stroke-linejoin="miter" stroke="rgb(0%, 0%, 0%)" stroke-opacity="1" stroke-miterlimit="10" d="M 231.25 -27 L 231.25 -51.050781 " transform="matrix(1, 0, 0, -1, 0, 0)"/>
<path fill="none" stroke-width="0.3985" stroke-linecap="butt" stroke-linejoin="miter" stroke="rgb(0%, 0%, 100%)" stroke-opacity="1" stroke-dasharray="2.98883 2.98883" stroke-miterlimit="10" d="M 231.25 -80.835938 L 231.25 -52.585938 " transform="matrix(1, 0, 0, -1, 0, 0)"/>
<path fill="none" stroke-width="0.3985" stroke-linecap="butt" stroke-linejoin="miter" stroke="rgb(100%, 0%, 0%)" stroke-opacity="1" stroke-miterlimit="10" d="M 231.25 -110.621094 C 231.25 -109.375 229.007812 -108.753906 229.007812 -107.507812 C 229.007812 -106.605469 230.101562 -105.828125 231.25 -105.015625 C 232.394531 -104.203125 233.488281 -103.425781 233.488281 -102.523438 C 233.488281 -101.625 232.394531 -100.847656 231.25 -100.035156 C 230.101562 -99.222656 229.007812 -98.445312 229.007812 -97.542969 C 229.007812 -96.640625 230.101562 -95.863281 231.25 -95.054688 C 232.394531 -94.242188 233.488281 -93.464844 233.488281 -92.5625 C 233.488281 -91.660156 232.394531 -90.882812 231.25 -90.070312 C 230.101562 -89.261719 229.007812 -88.484375 229.007812 -87.582031 C 229.007812 -86.335938 231.25 -85.714844 231.25 -84.46875 L 231.25 -82.371094 " transform="matrix(1, 0, 0, -1, 0, 0)"/>
<path fill="none" stroke-width="0.3985" stroke-linecap="butt" stroke-linejoin="miter" stroke="rgb(0%, 0%, 0%)" stroke-opacity="1" stroke-miterlimit="10" d="M 231.25 -112.011719 L 231.25 -170.046875 " transform="matrix(1, 0, 0, -1, 0, 0)"/>
<path fill="none" stroke-width="0.3985" stroke-linecap="butt" stroke-linejoin="miter" stroke="rgb(0%, 0%, 100%)" stroke-opacity="1" stroke-dasharray="2.98883 2.98883" stroke-miterlimit="10" d="M 303.515625 -38.28125 L 303.515625 0.480469 " transform="matrix(1, 0, 0, -1, 0, 0)"/>
<path fill="none" stroke-width="0.3985" stroke-linecap="butt" stroke-linejoin="miter" stroke="rgb(100%, 0%, 0%)" stroke-opacity="1" stroke-miterlimit="10" d="M 303.515625 -68.113281 C 303.515625 -66.867188 301.273438 -66.246094 301.273438 -65 C 301.273438 -64.097656 302.367188 -63.324219 303.515625 -62.511719 C 304.664062 -61.699219 305.757812 -60.921875 305.757812 -60.019531 C 305.757812 -59.117188 304.664062 -58.339844 303.515625 -57.527344 C 302.367188 -56.71875 301.273438 -55.941406 301.273438 -55.039062 C 301.273438 -54.136719 302.367188 -53.359375 303.515625 -52.546875 C 304.664062 -51.734375 305.757812 -50.957031 305.757812 -50.058594 C 305.757812 -49.15625 304.664062 -48.378906 303.515625 -47.566406 C 302.367188 -46.753906 301.273438 -45.976562 301.273438 -45.074219 C 301.273438 -43.832031 303.515625 -43.207031 303.515625 -41.960938 L 303.515625 -39.816406 " transform="matrix(1, 0, 0, -1, 0, 0)"/>
<path fill="none" stroke-width="0.3985" stroke-linecap="butt" stroke-linejoin="miter" stroke="rgb(0%, 0%, 0%)" stroke-opacity="1" stroke-miterlimit="10" d="M 303.515625 -69.507812 L 303.515625 -123.257812 " transform="matrix(1, 0, 0, -1, 0, 0)"/>
<path fill="none" stroke-width="0.3985" stroke-linecap="butt" stroke-linejoin="miter" stroke="rgb(0%, 0%, 100%)" stroke-opacity="1" stroke-dasharray="2.98883 2.98883" stroke-miterlimit="10" d="M 303.515625 -170.046875 L 303.515625 -124.792969 " transform="matrix(1, 0, 0, -1, 0, 0)"/>
<path fill="none" stroke-width="0.3985" stroke-linecap="butt" stroke-linejoin="miter" stroke="rgb(0%, 0%, 0%)" stroke-opacity="1" stroke-miterlimit="10" d="M 232.015625 -81.152344 L 302.546875 -39.617188 " transform="matrix(1, 0, 0, -1, 0, 0)"/>
<path fill="none" stroke-width="0.3985" stroke-linecap="round" stroke-linejoin="round" stroke="rgb(0%, 0%, 0%)" stroke-opacity="1" stroke-miterlimit="10" d="M -2.069937 2.391177 C -1.69563 0.955823 -0.85058 0.281431 -0.00139546 -0.000990224 C -0.850629 -0.280682 -1.693899 -0.958292 -2.070658 -2.391136 " transform="matrix(0.86166, -0.50737, -0.50737, -0.86166, 302.71945, 39.51797)"/>
<path fill="none" stroke-width="0.3985" stroke-linecap="butt" stroke-linejoin="miter" stroke="rgb(0%, 0%, 0%)" stroke-opacity="1" stroke-miterlimit="10" d="M 232.015625 -110.792969 L 302.546875 -69.308594 " transform="matrix(1, 0, 0, -1, 0, 0)"/>
<path fill="none" stroke-width="0.3985" stroke-linecap="round" stroke-linejoin="round" stroke="rgb(0%, 0%, 0%)" stroke-opacity="1" stroke-miterlimit="10" d="M -2.070504 2.391027 C -1.695511 0.955864 -0.852124 0.278515 -0.000829649 -0.000128379 C -0.849923 -0.280226 -1.69286 -0.958235 -2.072296 -2.389269 " transform="matrix(0.86191, -0.50696, -0.50696, -0.86191, 302.7194, 69.2065)"/>
<path fill="none" stroke-width="0.3985" stroke-linecap="butt" stroke-linejoin="miter" stroke="rgb(0%, 0%, 0%)" stroke-opacity="1" stroke-miterlimit="10" d="M 232.015625 -52.585938 L 302.609375 -123.121094 " transform="matrix(1, 0, 0, -1, 0, 0)"/>
<path fill="none" stroke-width="0.3985" stroke-linecap="round" stroke-linejoin="round" stroke="rgb(0%, 0%, 0%)" stroke-opacity="1" stroke-miterlimit="10" d="M -2.07247 2.38897 C -1.694644 0.95522 -0.849686 0.280886 0.000960304 -0.00121578 C -0.849919 -0.277083 -1.695442 -0.956236 -2.071703 -2.392434 " transform="matrix(0.70738, 0.70679, 0.70679, -0.70738, 302.75018, 123.26018)"/>
<g fill="rgb(0%, 0%, 0%)" fill-opacity="1">
<use href="#glyph-0-0" x="235.453" y="28.704"/>
</g>
<g fill="rgb(0%, 0%, 0%)" fill-opacity="1">
<use href="#glyph-1-0" x="239.327" y="28.704"/>
</g>
<g fill="rgb(0%, 0%, 0%)" fill-opacity="1">
<use href="#glyph-0-1" x="247.041" y="28.704"/>
</g>
<g fill="rgb(0%, 0%, 0%)" fill-opacity="1">
<use href="#glyph-0-2" x="257.001607" y="28.704"/>
<use href="#glyph-0-3" x="261.982907" y="28.704"/>
</g>
<g fill="rgb(0%, 0%, 0%)" fill-opacity="1">
<use href="#glyph-1-1" x="265.86" y="28.704"/>
</g>
<path fill="none" stroke-width="0.398" stroke-linecap="butt" stroke-linejoin="miter" stroke="rgb(0%, 0%, 0%)" stroke-opacity="1" stroke-miterlimit="10" d="M -0.000625 0.00134375 L 4.67125 0.00134375 " transform="matrix(1, 0, 0, -1, 265.86, 30.099)"/>
<g fill="rgb(0%, 0%, 0%)" fill-opacity="1">
<use href="#glyph-1-0" x="235.429" y="143.499"/>
</g>
<g fill="rgb(0%, 0%, 0%)" fill-opacity="1">
<use href="#glyph-1-1" x="240.92437" y="143.499"/>
</g>
<path fill="none" stroke-width="0.398" stroke-linecap="butt" stroke-linejoin="miter" stroke="rgb(0%, 0%, 0%)" stroke-opacity="1" stroke-miterlimit="10" d="M 0.0006875 -0.00053125 L 4.668656 -0.00053125 " transform="matrix(1, 0, 0, -1, 240.929, 144.894)"/>
<g fill="rgb(0%, 0%, 0%)" fill-opacity="1">
<use href="#glyph-1-3" x="164.579" y="87.002"/>
</g>
<g fill="rgb(0%, 0%, 0%)" fill-opacity="1">
<use href="#glyph-1-3" x="188.412" y="64.321"/>
</g>
<g fill="rgb(0%, 0%, 0%)" fill-opacity="1">
<use href="#glyph-2-0" x="192.791" y="65.816"/>
</g>
<g fill="rgb(0%, 0%, 0%)" fill-opacity="1">
<use href="#glyph-1-3" x="190.572" y="121.827"/>
</g>
<g fill="rgb(0%, 0%, 0%)" fill-opacity="1">
<use href="#glyph-2-1" x="194.951" y="123.321"/>
</g>
<g fill="rgb(0%, 0%, 0%)" fill-opacity="1">
<use href="#glyph-1-4" x="235.453" y="52.945"/>
</g>
<path fill="none" stroke-width="0.398" stroke-linecap="butt" stroke-linejoin="miter" stroke="rgb(0%, 0%, 0%)" stroke-opacity="1" stroke-miterlimit="10" d="M 0.000125 0.00015625 L 5.187625 0.00015625 " transform="matrix(1, 0, 0, -1, 235.453, 54.34)"/>
<g fill="rgb(0%, 0%, 0%)" fill-opacity="1">
<use href="#glyph-1-5" x="235.453" y="82.682"/>
</g>
<path fill="none" stroke-width="0.398" stroke-linecap="butt" stroke-linejoin="miter" stroke="rgb(0%, 0%, 0%)" stroke-opacity="1" stroke-miterlimit="10" d="M 0.000125 0.00178125 L 5.70325 0.00178125 " transform="matrix(1, 0, 0, -1, 235.453, 84.076)"/>
<g fill="rgb(0%, 0%, 0%)" fill-opacity="1">
<use href="#glyph-1-6" x="235.453" y="113.306"/>
</g>
<path fill="none" stroke-width="0.398" stroke-linecap="butt" stroke-linejoin="miter" stroke="rgb(0%, 0%, 0%)" stroke-opacity="1" stroke-miterlimit="10" d="M 0.000125 0.00178125 L 3.597781 0.00178125 " transform="matrix(1, 0, 0, -1, 235.453, 114.701)"/>
<g fill="rgb(0%, 0%, 0%)" fill-opacity="1">
<use href="#glyph-1-2" x="307.791" y="41.497"/>
</g>
<g fill="rgb(0%, 0%, 0%)" fill-opacity="1">
<use href="#glyph-0-0" x="313.841" y="41.497"/>
</g>
<g fill="rgb(0%, 0%, 0%)" fill-opacity="1">
<use href="#glyph-1-5" x="317.715" y="41.497"/>
</g>
<path fill="none" stroke-width="0.398" stroke-linecap="butt" stroke-linejoin="miter" stroke="rgb(0%, 0%, 0%)" stroke-opacity="1" stroke-miterlimit="10" d="M -0.00015625 0.000375 L 5.702969 0.000375 " transform="matrix(1, 0, 0, -1, 317.715, 42.891)"/>
<g clip-path="url(#clip-2)">
<g fill="rgb(0%, 0%, 0%)" fill-opacity="1">
<use href="#glyph-0-3" x="323.418" y="41.497"/>
</g>
</g>
<g fill="rgb(0%, 0%, 0%)" fill-opacity="1">
<use href="#glyph-1-2" x="307.791" y="71.185"/>
</g>
<g fill="rgb(0%, 0%, 0%)" fill-opacity="1">
<use href="#glyph-0-0" x="313.841" y="71.185"/>
</g>
<g fill="rgb(0%, 0%, 0%)" fill-opacity="1">
<use href="#glyph-1-6" x="317.715" y="71.185"/>
</g>
<path fill="none" stroke-width="0.398" stroke-linecap="butt" stroke-linejoin="miter" stroke="rgb(0%, 0%, 0%)" stroke-opacity="1" stroke-miterlimit="10" d="M -0.00015625 0.001875 L 3.5975 0.001875 " transform="matrix(1, 0, 0, -1, 317.715, 72.58)"/>
<g fill="rgb(0%, 0%, 0%)" fill-opacity="1">
<use href="#glyph-0-3" x="321.313" y="71.185"/>
</g>
<g fill="rgb(0%, 0%, 0%)" fill-opacity="1">
<use href="#glyph-1-1" x="307.791" y="99.65"/>
</g>
<path fill="none" stroke-width="0.398" stroke-linecap="butt" stroke-linejoin="miter" stroke="rgb(0%, 0%, 0%)" stroke-opacity="1" stroke-miterlimit="10" d="M -0.0019375 -0.001875 L 4.669938 -0.001875 " transform="matrix(1, 0, 0, -1, 307.791, 101.045)"/>
<g fill="rgb(0%, 0%, 0%)" fill-opacity="1">
<use href="#glyph-1-2" x="307.791" y="126.483"/>
</g>
<g fill="rgb(0%, 0%, 0%)" fill-opacity="1">
<use href="#glyph-0-0" x="313.841" y="126.483"/>
</g>
<g fill="rgb(0%, 0%, 0%)" fill-opacity="1">
<use href="#glyph-1-4" x="317.715" y="126.483"/>
</g>
<path fill="none" stroke-width="0.398" stroke-linecap="butt" stroke-linejoin="miter" stroke="rgb(0%, 0%, 0%)" stroke-opacity="1" stroke-miterlimit="10" d="M -0.00015625 -0.00190625 L 5.187344 -0.00190625 " transform="matrix(1, 0, 0, -1, 317.715, 127.877)"/>
<g fill="rgb(0%, 0%, 0%)" fill-opacity="1">
<use href="#glyph-0-3" x="322.902" y="126.483"/>
</g>
</svg>

</body></html>
